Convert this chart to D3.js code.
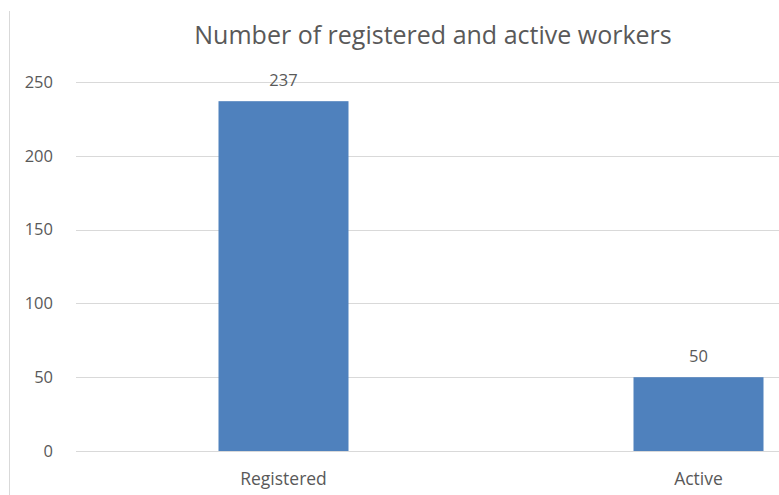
<!DOCTYPE html>
<html>
<head>
<meta charset="utf-8">
<script src="https://cdn.jsdelivr.net/npm/d3@7"></script>
<style>
  body { margin: 0; background: #fff; }
  text { font-family: "Open Sans", "Noto Sans", sans-serif; fill: #595959; }
</style>
</head>
<body>
<div class="chart"></div>
<script>
const categories = ["Registered", "Active"]
const workers = [237, 50]
const yTicks = [0, 50, 100, 150, 200, 250]
const title = "Number of registered and active workers"

const width = 779, height = 495
const margin = {top: 82, left: 76, bottom: 451}

const svg = d3.select(".chart")
    .append("svg")
        .attr("width", width)
        .attr("height", height)

// chart frame edge on the left (picture is cropped)
svg.append("line")
    .attr("x1", 9.5).attr("x2", 9.5)
    .attr("y1", 11).attr("y2", height)
    .attr("stroke", "#d9d9d9")

let x = d3.scaleBand()
    .range([margin.left, 906])
    .domain(categories)
    .padding(0)

let y = d3.scaleLinear()
    .domain([0, 250])
    .range([margin.bottom, margin.top])

// gridlines
svg.append("g")
    .selectAll("line")
    .data(yTicks)
    .enter()
    .append("line")
        .attr("x1", margin.left)
        .attr("x2", 906)
        .attr("y1", d => Math.round(y(d)) + 0.5)
        .attr("y2", d => Math.round(y(d)) + 0.5)
        .attr("stroke", "#d9d9d9")

// y axis labels
const yAxis = svg.append("g")
    .attr("transform", "translate(" + (margin.left - 23) + ",0)")
    .call(d3.axisLeft(y).tickValues(yTicks).tickSize(0).tickPadding(0))
yAxis.select(".domain").remove()
yAxis.selectAll("text")
    .attr("font-size", 16.5)
    .attr("fill", "#595959")
    .style("font-family", "'Open Sans', sans-serif")

const barW = 130
svg.selectAll("rect.bar")
    .data(workers)
    .enter()
    .append("rect")
        .attr("class", "bar")
        .attr("x", (d, i) => x(categories[i]) + x.bandwidth() / 2 - barW / 2)
        .attr("y", d => y(d))
        .attr("width", barW)
        .attr("height", d => y(0) - y(d))
        .attr("fill", "#4f81bd")

// data labels
svg.selectAll("text.val")
    .data(workers)
    .enter()
    .append("text")
        .attr("class", "val")
        .attr("x", (d, i) => x(categories[i]) + x.bandwidth() / 2)
        .attr("y", d => y(d) - 15)
        .attr("text-anchor", "middle")
        .attr("font-size", 16.5)
        .text(d => d)

// category labels
const xAxis = svg.append("g")
    .attr("transform", "translate(0," + margin.bottom + ")")
    .call(d3.axisBottom(x).tickSize(0))
xAxis.select(".domain").remove()
xAxis.selectAll("text")
    .attr("y", 34)
    .attr("dy", 0)
    .attr("font-size", 17.5)
    .attr("fill", "#595959")
    .style("font-family", "'Open Sans', sans-serif")

svg.append("text")
    .attr("x", 433)
    .attr("y", 44)
    .attr("text-anchor", "middle")
    .attr("font-size", 25)
    .text(title)
</script>
</body>
</html>
